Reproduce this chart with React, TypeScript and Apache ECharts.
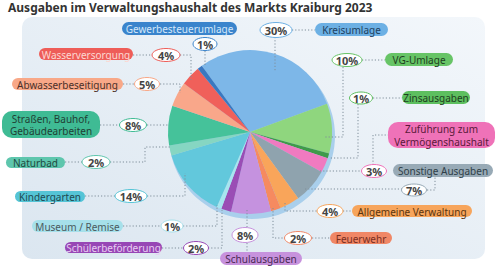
import React, { useEffect, useRef } from "react";
import * as echarts from "echarts";

// ---- data ----
const categories = [
  "Kreisumlage",
  "VG-Umlage",
  "Zinsausgaben",
  "Zuführung zum\nVermögenshaushalt",
  "Sonstige Ausgaben",
  "Allgemeine Verwaltung",
  "Feuerwehr",
  "Schulausgaben",
  "Schülerbeförderung",
  "Museum / Remise",
  "Kindergarten",
  "Naturbad",
  "Straßen, Bauhof,\nGebäudearbeiten",
  "Abwasserbeseitigung",
  "Wasserversorgung",
  "Gewerbesteuerumlage",
];
const values = [30, 10, 1, 3, 7, 4, 2, 8, 2, 1, 14, 2, 8, 5, 4, 1];
const percentLabels = ["30%", "10%", "1%", "3%", "7%", "4%", "2%", "8%", "2%", "1%", "14%", "2%", "8%", "5%", "4%", "1%"];
const title = "Ausgaben im Verwaltungshaushalt des Markts Kraiburg 2023";

// ---- styles ----
const sliceColors = [
  "#7db7e8", "#8fd67e", "#3f9a4a", "#f07ac0", "#8fa3ae", "#f9a55a", "#f68a60", "#c592df",
  "#9a4db5", "#a8e5ef", "#62c8dc", "#86d6c2", "#45c29a", "#f9a78a", "#f0605a", "#3a78c0",
];
const pillColors = [
  "#6cb0e4", "#67c466", "#5dbf5f", "#ef72b8", "#98aab6", "#f7a55c", "#f08766", "#c792dd",
  "#9747b5", "#a6e0ea", "#55c4d6", "#5ec6ad", "#3fbb94", "#f8a888", "#ee5d58", "#3a84cc",
];
const pillTextColors = [
  "#1e3f5f", "#1e3e1e", "#1e3e1e", "#5a1a3a", "#2f3f48", "#5a3510", "#7a2f1f", "#4a2a55",
  "#e8cdf2", "#4a5a5e", "#1f4a52", "#1f4a40", "#1f3f35", "#4a3028", "#fcd8d2", "#d4e8fa",
];

// ---- layout (pill box [x1,y1,x2,y2], pct ellipse [cx,cy,rx,ry], leader polylines) ----
const layout: { pill: number[]; pct: number[]; lines: number[][][] }[] = [
  { pill: [315, 23, 388, 36], pct: [276, 30, 16, 7.5], lines: [[[292, 30], [315, 30]], [[275, 37], [275, 72]]] },
  { pill: [385, 53, 453, 66], pct: [347, 60, 15, 6.5], lines: [[[362, 60], [385, 60]], [[343, 67], [343, 137], [325, 137]]] },
  { pill: [402, 91, 470, 104], pct: [361, 98, 11.5, 6], lines: [[[373, 98], [402, 98]], [[358, 104], [358, 158], [329, 158]]] },
  { pill: [388, 122, 495, 148], pct: [374, 171, 12.5, 6.5], lines: [[[320, 171], [362, 171]], [[373, 165], [373, 135], [388, 135]]] },
  { pill: [393, 164, 493, 177], pct: [414, 190, 12.5, 6], lines: [[[305, 189], [402, 189]], [[427, 190], [435, 190], [435, 177]]] },
  { pill: [352, 205, 472, 217], pct: [330, 211, 13, 6.5], lines: [[[285, 203], [285, 211], [317, 211]], [[343, 211], [352, 211]]] },
  { pill: [330, 232, 392, 244], pct: [298, 238, 13.5, 6.5], lines: [[[273, 208], [273, 238], [285, 238]], [[312, 238], [330, 238]]] },
  { pill: [220, 252, 302, 265], pct: [245, 235, 13, 7.5], lines: [[[247, 210], [247, 228]], [[247, 243], [247, 252]]] },
  { pill: [65, 242, 162, 253], pct: [196, 248, 12.5, 6.5], lines: [[[162, 248], [183, 248]], [[208, 248], [222, 248], [222, 210]]] },
  { pill: [32, 220, 123, 232], pct: [172, 226, 11, 6], lines: [[[123, 226], [161, 226]], [[183, 226], [217, 226], [217, 205]]] },
  { pill: [15, 191, 85, 202], pct: [131, 196, 16, 6.5], lines: [[[85, 196], [115, 196]], [[147, 196], [185, 196], [185, 173]]] },
  { pill: [6, 157, 65, 168], pct: [96, 162, 14, 6.5], lines: [[[65, 162], [82, 162]], [[110, 162], [145, 162], [145, 147], [170, 147]]] },
  { pill: [2, 111, 100, 138], pct: [133, 125, 13.5, 6.5], lines: [[[100, 125], [120, 125]], [[147, 125], [168, 125]]] },
  { pill: [12, 78, 123, 90], pct: [147, 84, 12.5, 6.5], lines: [[[123, 84], [135, 84]], [[160, 84], [180, 84], [180, 93]]] },
  { pill: [39, 48, 133, 60], pct: [166, 55, 14, 6.5], lines: [[[133, 55], [152, 55]], [[180, 55], [191, 55], [191, 80]]] },
  { pill: [122, 22, 237, 35], pct: [205, 44, 12, 6.5], lines: [[[205, 51], [205, 66]]] },
];

const FONT = "'Noto Sans', 'Open Sans', sans-serif";

export default function App() {
  const ref = useRef<HTMLDivElement>(null);
  useEffect(() => {
    document.body.style.margin = "0";
    const chart = echarts.init(ref.current!, null, { renderer: "svg" });
    const elements: any[] = [];
    elements.push({
      type: "rect",
      z: -10,
      shape: { x: 22, y: 17, width: 463, height: 242, r: 10 },
      style: {
        fill: new echarts.graphic.LinearGradient(1, 0, 0, 1, [
          { offset: 0, color: "#f3f7fb" },
          { offset: 1, color: "#dbe6f0" },
        ]),
      },
      silent: true,
    });
    elements.push({
      type: "text",
      x: 8,
      y: 1,
      z: 100,
      style: { text: title, font: `bold 12px ${FONT}`, fill: "#333333" },
    });
    layout.forEach((l) => {
      l.lines.forEach((pts) => {
        elements.push({
          type: "polyline",
          z: 50,
          shape: { points: pts },
          style: { stroke: "#7f8e9a", lineWidth: 1, lineDash: [1.2, 2], fill: null },
          silent: true,
        });
      });
    });
    layout.forEach((l, i) => {
      const [x1, y1, x2, y2] = l.pill;
      const h = y2 - y1;
      const twoLine = categories[i].includes("\n");
      elements.push({
        type: "rect",
        z: 60,
        shape: { x: x1, y: y1, width: x2 - x1, height: h, r: twoLine ? 10 : h / 2 },
        style: { fill: pillColors[i] },
      });
      elements.push({
        type: "text",
        z: 61,
        x: (x1 + x2) / 2,
        y: (y1 + y2) / 2 + 0.5,
        style: {
          text: categories[i],
          font: `10px ${FONT}`,
          fill: pillTextColors[i],
          align: "center",
          verticalAlign: "middle",
          lineHeight: 12.5,
        },
      });
      const [cx, cy, rx, ry] = l.pct;
      elements.push({
        type: "ellipse",
        z: 60,
        shape: { cx, cy, rx, ry },
        style: { fill: "#ffffff", stroke: pillColors[i], lineWidth: 1 },
      });
      elements.push({
        type: "text",
        z: 61,
        x: cx,
        y: cy + 0.5,
        style: {
          text: percentLabels[i],
          font: `bold 11px ${FONT}`,
          fill: "#444444",
          align: "center",
          verticalAlign: "middle",
        },
      });
    });

    chart.setOption({
      animation: false,
      graphic: { elements },
      series: [
        {
          type: "pie",
          silent: true,
          center: [252, 136],
          radius: 83,
          z: 1,
          label: { show: false },
          labelLine: { show: false },
          data: [{ value: 1, itemStyle: { color: "#a9cfec" } }],
        },
        {
          type: "pie",
          silent: true,
          center: [250, 132],
          radius: 82,
          startAngle: 126,
          clockwise: true,
          z: 2,
          label: { show: false },
          labelLine: { show: false },
          itemStyle: { borderWidth: 0 },
          data: categories.map((c, i) => ({
            name: c,
            value: values[i],
            itemStyle: { color: sliceColors[i] },
          })),
        },
      ],
    });
    return () => chart.dispose();
  }, []);
  return <div ref={ref} style={{ width: 500, height: 267 }} />;
}
